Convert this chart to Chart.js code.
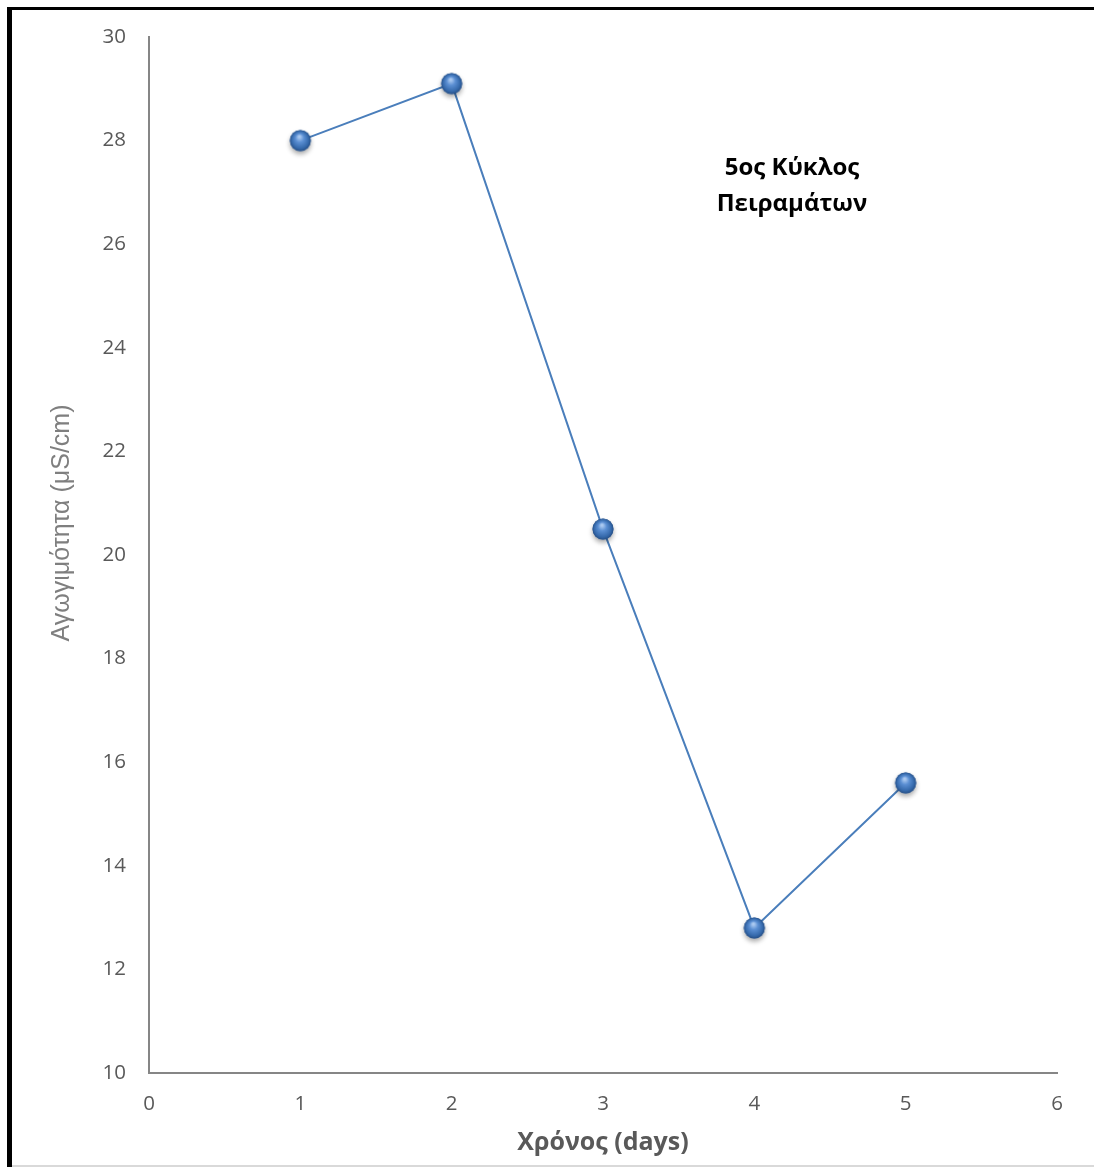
<!DOCTYPE html>
<html>
<head>
<meta charset="utf-8">
<script src="https://cdn.jsdelivr.net/npm/chart.js@4/dist/chart.umd.min.js"></script>
<style>
  body { margin: 0; background: #fff; }
</style>
</head>
<body>
<canvas id="cycle" width="1094" height="1167"></canvas>
<script>
// 5th experiment cycle - conductivity vs time
const days = [1, 2, 3, 4, 5];
const conductivity = [28, 29.1, 20.5, 12.8, 15.6];
const xTicks = [0, 1, 2, 3, 4, 5, 6];
const yTicks = [10, 12, 14, 16, 18, 20, 22, 24, 26, 28, 30];

const yTitle = 'Αγωγιμότητα (μS/cm)';
const xTitle = 'Χρόνος (days)';
const note = ['5ος Κύκλος', 'Πειραμάτων'];

// little shaded ball used as point marker
function makeBall() {
  const c = document.createElement('canvas');
  c.width = 40; c.height = 40;
  const g = c.getContext('2d');
  const cx = 20, cy = 20, r = 10.5;
  g.save();
  g.shadowColor = 'rgba(0,0,0,0.35)';
  g.shadowBlur = 5;
  g.shadowOffsetY = 3;
  g.beginPath();
  g.arc(cx, cy, r, 0, Math.PI * 2);
  g.fillStyle = '#3d6fae';
  g.fill();
  g.restore();
  const grad = g.createRadialGradient(cx - 1, cy - 4, 1, cx, cy, r);
  grad.addColorStop(0, '#a9c8f0');
  grad.addColorStop(0.35, '#5b8fd3');
  grad.addColorStop(0.8, '#3569ab');
  grad.addColorStop(1, '#274f86');
  g.beginPath();
  g.arc(cx, cy, r, 0, Math.PI * 2);
  g.fillStyle = grad;
  g.fill();
  return c;
}

const extras = {
  id: 'extras',
  afterDraw(chart) {
    const ctx = chart.ctx;
    ctx.save();
    // frame
    ctx.fillStyle = '#000';
    ctx.fillRect(7, 7, 1087, 3);
    ctx.fillRect(7, 7, 5, 1160);
    ctx.fillStyle = '#d9d9d9';
    ctx.fillRect(12, 1165, 1082, 2);

    // y axis title
    ctx.translate(62, 523);
    ctx.rotate(-Math.PI / 2);
    ctx.fillStyle = '#7f7f7f';
    ctx.font = '25px "Liberation Sans Narrow", "Liberation Sans", sans-serif';
    ctx.textAlign = 'center';
    ctx.textBaseline = 'middle';
    ctx.fillText(yTitle, 0, 0);
    ctx.restore();

    // text box
    ctx.save();
    ctx.fillStyle = '#000';
    ctx.font = 'bold 24px "Open Sans", sans-serif';
    ctx.textAlign = 'center';
    ctx.textBaseline = 'middle';
    ctx.fillText(note[0], 792, 168);
    ctx.fillText(note[1], 792, 204);
    ctx.restore();
  }
};

const ctx = document.getElementById('cycle').getContext('2d');
new Chart(ctx, {
  type: 'scatter',
  data: {
    datasets: [{
      data: days.map((d, i) => ({ x: d, y: conductivity[i] })),
      showLine: true,
      borderColor: '#4a7ebb',
      borderWidth: 2,
      pointStyle: makeBall(),
      pointRadius: 11,
      pointHoverRadius: 11
    }]
  },
  options: {
    responsive: false,
    animation: false,
    devicePixelRatio: 1,
    layout: { padding: { left: 0, top: 37, right: 37, bottom: 0 } },
    plugins: { legend: { display: false }, tooltip: { enabled: false } },
    scales: {
      x: {
        type: 'linear',
        min: 0, max: 6,
        afterBuildTicks: s => { s.ticks = xTicks.map(v => ({ value: v })); },
        afterFit: s => { s.height = 94; },
        grid: { display: false, drawTicks: false },
        border: { color: '#868686', width: 2 },
        ticks: { color: '#595959', padding: 19, font: { family: '"Open Sans", sans-serif', size: 20.5 } },
        title: {
          display: true, text: xTitle, color: '#595959',
          font: { family: '"Open Sans", sans-serif', size: 25, weight: 'bold' },
          padding: { top: 0, bottom: 9 }
        }
      },
      y: {
        min: 10, max: 30,
        afterBuildTicks: s => { s.ticks = yTicks.map(v => ({ value: v })); },
        afterFit: s => { s.width = 149; },
        grid: { display: false, drawTicks: false },
        border: { color: '#868686', width: 2 },
        ticks: { color: '#595959', padding: 23, font: { family: '"Open Sans", sans-serif', size: 20.5 } }
      }
    }
  },
  plugins: [extras]
});
</script>
</body>
</html>
